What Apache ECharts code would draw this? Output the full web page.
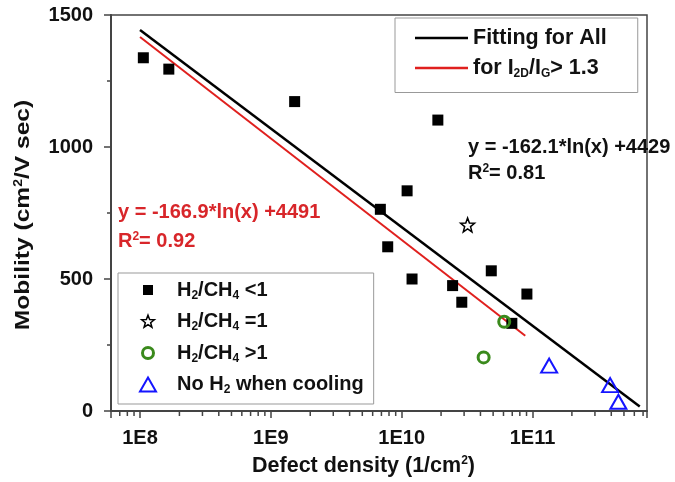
<!DOCTYPE html>
<html>
<head>
<meta charset="utf-8">
<script src="https://cdn.jsdelivr.net/npm/echarts@6/dist/echarts.min.js"></script>
<style>
html, body { margin: 0; padding: 0; background: #fff; }
#chart { width: 675px; height: 482px; }
</style>
</head>
<body>
<div id="chart"></div>
<script>
// Defect density (1/cm^2) and mobility (cm^2/V sec) per growth condition
const lowRatioDensity = [1.06e8, 1.66e8, 1.52e9, 1.89e10, 1.10e10, 6.87e9, 7.82e9, 1.20e10, 2.45e10, 2.88e10, 4.84e10, 9.06e10, 6.95e10];
const lowRatioMobility = [1338, 1295, 1172, 1102, 834, 764, 622, 500, 475, 412, 531, 443, 332];
const equalRatioDensity = [3.19e10];
const equalRatioMobility = [705];
const highRatioDensity = [6.08e10, 4.23e10];
const highRatioMobility = [338, 203];
const noH2Density = [1.34e11, 3.92e11, 4.53e11];
const noH2Mobility = [172, 98, 35];

// Logarithmic fits: y = a*ln(x) + b
const fitAllCoef = [-162.1, 4429];
const fitAllR2 = 0.81;
const fitAllRange = [1e8, 6.6e11];
const fitRamanCoef = [-166.9, 4491];
const fitRamanR2 = 0.92;
const fitRamanRange = [1e8, 8.8e10];

// Axes
const xRange = [6e7, 7.5e11];
const yTicks = [0, 500, 1000, 1500];

const seriesNames = ['H2/CH4 <1', 'H2/CH4 =1', 'H2/CH4 >1', 'No H2 when cooling'];
const fitNames = ['Fitting for All', 'for I2D/IG > 1.3'];

const FONT = '"Liberation Sans", Arial, sans-serif';
const INK = '#111';
const RED = '#d8262a';
const GREEN = '#3a8a1c';
const BLUE = '#1515ff';
const pair = (xs, ys) => xs.map((x, i) => [x, ys[i]]);
const fitLine = (coef, range) => range.map(x => [x, coef[0] * Math.log(x) + coef[1]]);

// minor tick positions (2..9 within each decade)
const minorTicks = [];
for (let e = 7; e <= 11; e++) {
  for (let m = 2; m <= 9; m++) {
    const v = m * Math.pow(10, e);
    if (v > xRange[0] && v < xRange[1]) minorTicks.push([v, yTicks[0]]);
  }
}

function richSet(size, color) {
  return {
    n: { fontFamily: FONT, fontWeight: 'bold', fontSize: size, color: color, fill: color },
    s: { fontFamily: FONT, fontWeight: 'bold', fontSize: 12, color: color, fill: color, padding: [11, 0, 0, 0] },
    p: { fontFamily: FONT, fontWeight: 'bold', fontSize: 12, color: color, fill: color, verticalAlign: 'top' }
  };
}

const legendLabels = {
  'H2/CH4 <1': '{n|H}{s|2}{n|/CH}{s|4}{n| <1}',
  'H2/CH4 =1': '{n|H}{s|2}{n|/CH}{s|4}{n| =1}',
  'H2/CH4 >1': '{n|H}{s|2}{n|/CH}{s|4}{n| >1}',
  'No H2 when cooling': '{n|No H}{s|2}{n| when cooling}',
  'Fitting for All': '{n|Fitting for All}',
  'for I2D/IG > 1.3': '{n|for I}{s|2D}{n|/I}{s|G}{n|> 1.3}'
};

// marker shapes (leading moves set the padding of legend icons)
const starShape = 'M0,-100 L24.7,-34 L95.1,-30.9 L39.9,13 L58.8,80.9 L0,42 L-58.8,80.9 L-39.9,13 L-95.1,-30.9 L-24.7,-34 Z';
const starPath = 'path://' + starShape;
const squareIcon = 'path://M-3,-3 M13,13 M0,0 L10,0 L10,10 L0,10 Z';
const starIcon = 'path://M-120,-125 M120,115 ' + starShape;
const circleIcon = 'path://M-8,-8 M8,8 M0,-5.5 A5.5,5.5 0 1 1 0,5.5 A5.5,5.5 0 1 1 0,-5.5 Z';
const triangleIcon = 'path://M-1,-1 M17,15 M0,14 L8,0 L16,14 Z';

const eqLine = coef => '{n|y = ' + coef[0].toFixed(1) + '*ln(x) +' + coef[1] + '}';
const r2Line = r2 => '{n|R}{p|2}{n|= ' + r2.toFixed(2) + '}';

function textAt(x, y, text, color, size, extra) {
  return Object.assign({
    type: 'text', x: x, y: y, silent: true,
    style: {
      text: text, rich: richSet(size, color), fill: color,
      align: 'left', verticalAlign: 'middle', textAlign: 'left', textVerticalAlign: 'middle'
    }
  }, extra || {});
}

const chart = echarts.init(document.getElementById('chart'), null, { renderer: 'canvas' });

chart.setOption({
  animation: false,
  backgroundColor: '#fff',
  grid: {
    left: 111, right: 28, top: 15, bottom: 71,
    show: true, borderColor: '#444', borderWidth: 1.5, backgroundColor: 'transparent'
  },
  xAxis: {
    type: 'log',
    logBase: 10,
    min: xRange[0],
    max: xRange[1],
    axisLine: { lineStyle: { color: '#444', width: 2 } },
    axisTick: { show: true, inside: false, length: 7, lineStyle: { color: '#444', width: 1.5 } },
    splitLine: { show: false },
    axisLabel: {
      fontFamily: FONT, fontWeight: 'bold', fontSize: 20, color: INK, margin: 17,
      formatter: v => {
        const e = Math.log10(v);
        return Math.abs(e - Math.round(e)) < 1e-6 ? '1E' + Math.round(e) : '';
      }
    }
  },
  yAxis: {
    type: 'value',
    min: yTicks[0],
    max: yTicks[yTicks.length - 1],
    interval: 500,
    axisLine: { show: true, lineStyle: { color: '#444', width: 2 } },
    axisTick: { show: true, inside: false, length: 7, lineStyle: { color: '#444', width: 1.5 } },
    minorTick: { show: true, splitNumber: 2, length: 4, lineStyle: { color: '#444', width: 1.5 } },
    splitLine: { show: false },
    axisLabel: {
      fontFamily: FONT, fontWeight: 'bold', fontSize: 20, color: INK, margin: 18,
      formatter: v => String(v)
    }
  },
  legend: [
    {
      data: fitNames.map(n => ({ name: n, icon: 'rect' })),
      orient: 'vertical',
      left: 395, top: 18,
      padding: [9, 31, 13, 20],
      itemGap: 8,
      itemWidth: 53,
      itemHeight: 2.5,
      borderColor: '#999', borderWidth: 1,
      selectedMode: false,
      textStyle: { rich: richSet(21.5, INK) },
      formatter: name => legendLabels[name]
    },
    {
      data: [
        { name: seriesNames[0], icon: squareIcon, itemStyle: { color: '#000', borderWidth: 0 } },
        { name: seriesNames[1], icon: starIcon, itemStyle: { color: '#fff', borderColor: '#000', borderWidth: 1.5 } },
        { name: seriesNames[2], icon: circleIcon, itemStyle: { color: 'transparent', borderColor: GREEN, borderWidth: 3 } },
        { name: seriesNames[3], icon: triangleIcon, itemStyle: { color: 'transparent', borderColor: BLUE, borderWidth: 2 } }
      ],
      orient: 'vertical',
      left: 118, top: 273,
      padding: [7, 10, 8, 20],
      itemGap: 10,
      itemWidth: 48,
      itemHeight: 16,
      symbolKeepAspect: true,
      borderColor: '#999', borderWidth: 1,
      selectedMode: false,
      textStyle: { rich: richSet(20, INK) },
      formatter: name => legendLabels[name]
    }
  ],
  graphic: [
    textAt(468, 147, eqLine(fitAllCoef), INK, 20),
    textAt(468, 173, r2Line(fitAllR2), INK, 20),
    textAt(118, 212, eqLine(fitRamanCoef), RED, 20),
    textAt(118, 241, r2Line(fitRamanR2), RED, 20),
    // axis titles
    {
      type: 'text', x: 363.5, y: 466, silent: true,
      style: {
        text: '{n|Defect density (1/cm}{p|2}{n|)}', rich: richSet(21.5, INK),
        align: 'center', verticalAlign: 'middle', textAlign: 'center', textVerticalAlign: 'middle'
      }
    },
    {
      type: 'text', x: 23, y: 215, rotation: Math.PI / 2, scaleX: 1.17, silent: true,
      style: {
        text: '{n|Mobility (cm}{p|2}{n|/V sec)}', rich: richSet(21, INK),
        align: 'center', verticalAlign: 'middle', textAlign: 'center', textVerticalAlign: 'middle'
      }
    }
  ],
  series: [
    {
      name: fitNames[0], type: 'line', data: fitLine(fitAllCoef, fitAllRange),
      showSymbol: false, symbol: 'none', lineStyle: { color: '#000', width: 2.5 }, itemStyle: { color: '#000' }, z: 2
    },
    {
      name: fitNames[1], type: 'line', data: fitLine(fitRamanCoef, fitRamanRange),
      showSymbol: false, symbol: 'none', lineStyle: { color: '#e0201e', width: 2 }, itemStyle: { color: '#e0201e' }, z: 2
    },
    {
      name: seriesNames[0], type: 'scatter', data: pair(lowRatioDensity, lowRatioMobility),
      symbol: 'rect', symbolSize: 11, itemStyle: { color: '#000', opacity: 1 }, z: 3
    },
    {
      name: seriesNames[1], type: 'scatter', data: pair(equalRatioDensity, equalRatioMobility),
      symbol: starPath, symbolSize: 14,
      itemStyle: { color: '#fff', borderColor: '#000', borderWidth: 1.5, opacity: 1 }, z: 4
    },
    {
      name: seriesNames[2], type: 'scatter', data: pair(highRatioDensity, highRatioMobility),
      symbol: 'circle', symbolSize: 11,
      itemStyle: { color: 'transparent', borderColor: GREEN, borderWidth: 3, opacity: 1 }, z: 4
    },
    {
      name: seriesNames[3], type: 'scatter', data: pair(noH2Density, noH2Mobility),
      symbol: 'triangle', symbolSize: [16, 14],
      itemStyle: { color: 'transparent', borderColor: BLUE, borderWidth: 2, opacity: 1 }, z: 4
    },
    {
      name: 'minor-ticks', type: 'custom', data: minorTicks, silent: true, clip: false, z: 5,
      renderItem: (params, api) => {
        const p = api.coord([api.value(0), api.value(1)]);
        return {
          type: 'line',
          shape: { x1: p[0], y1: p[1] + 1, x2: p[0], y2: p[1] + 5 },
          style: { stroke: '#444', lineWidth: 1.5 }
        };
      }
    }
  ]
});
</script>
</body>
</html>
